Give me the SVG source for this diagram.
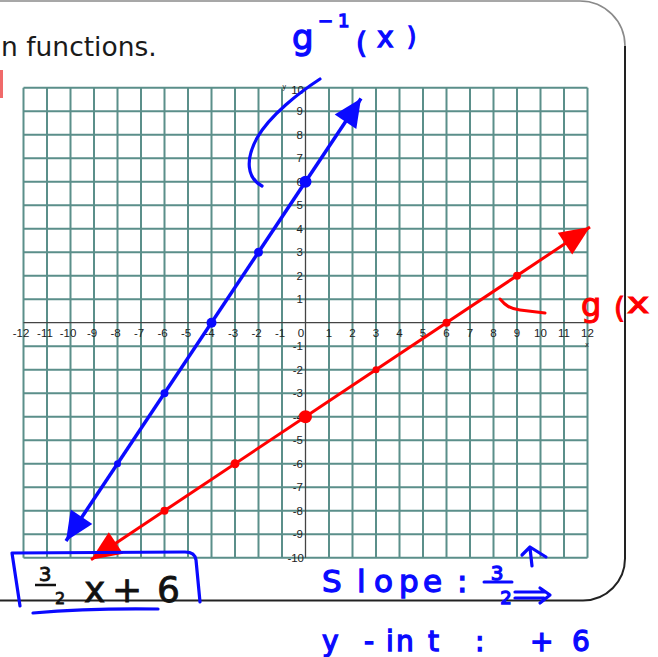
<svg xmlns="http://www.w3.org/2000/svg" width="658" height="657" viewBox="0 0 658 657">
<defs>
<style>
.grid{fill:none;stroke:#5b8f8a;stroke-width:2}
.axis{fill:none;stroke:#444;stroke-width:1.3}
.lbl{font-family:"Liberation Sans",Arial,sans-serif;font-size:11.5px;fill:#222}
.lx{text-anchor:middle}
.ly{text-anchor:end}
.hand{font-family:"DejaVu Sans","Liberation Sans",sans-serif}
.blue{fill:#0a0aff;stroke:#0a0aff;stroke-width:1.3}
.red{fill:#ff0000;stroke:#ff0000;stroke-width:1.1}
.blk{fill:#111;stroke:#111;stroke-width:0.8}
.bstroke{fill:none;stroke:#0a0aff;stroke-width:3.2;stroke-linecap:round;stroke-linejoin:round}
.rstroke{fill:none;stroke:#ff0000;stroke-width:3;stroke-linecap:round;stroke-linejoin:round}
</style>
</defs>
<rect x="0" y="0" width="658" height="657" fill="#ffffff"/>

<g id="page-frame">
<path d="M -5 1 H 580 A 45 45 0 0 1 625 46" fill="none" stroke="#8a8a8a" stroke-width="1.6"/>
<path d="M 625 46 V 558 A 42 42 0 0 1 583 600.5 H -5" fill="none" stroke="#222" stroke-width="2"/>
<rect x="0" y="70" width="3" height="28" fill="#f06a6a"/>
<text x="1" y="56" font-family="DejaVu Sans, Liberation Sans, sans-serif" font-size="26.5" fill="#1a1a1a">n functions.</text>
</g>

<g id="grid">
<path class="grid" d="M23.5 87.7V557.7M47 87.7V557.7M70.5 87.7V557.7M94 87.7V557.7M117.5 87.7V557.7M141 87.7V557.7M164.5 87.7V557.7M188 87.7V557.7M211.5 87.7V557.7M235 87.7V557.7M258.5 87.7V557.7M282 87.7V557.7M329 87.7V557.7M352.5 87.7V557.7M376 87.7V557.7M399.5 87.7V557.7M423 87.7V557.7M446.5 87.7V557.7M470 87.7V557.7M493.5 87.7V557.7M517 87.7V557.7M540.5 87.7V557.7M564 87.7V557.7M587.5 87.7V557.7
M23.5 87.7H587.5M23.5 111.2H587.5M23.5 134.7H587.5M23.5 158.2H587.5M23.5 181.7H587.5M23.5 205.2H587.5M23.5 228.7H587.5M23.5 252.2H587.5M23.5 275.7H587.5M23.5 299.2H587.5M23.5 346.2H587.5M23.5 369.7H587.5M23.5 393.2H587.5M23.5 416.7H587.5M23.5 440.2H587.5M23.5 463.7H587.5M23.5 487.2H587.5M23.5 510.7H587.5M23.5 534.2H587.5M23.5 557.7H587.5"/>
<path class="axis" d="M23.5 322.7H587.5M305.5 87.7V557.7"/>
</g>

<g id="x-labels" class="lbl lx">
<text x="21" y="337">-12</text>
<text x="45" y="337">-11</text>
<text x="68" y="337">-10</text>
<text x="92" y="337">-9</text>
<text x="115.5" y="337">-8</text>
<text x="139" y="337">-7</text>
<text x="162.5" y="337">-6</text>
<text x="186" y="337">-5</text>
<text x="209.5" y="337">-4</text>
<text x="233" y="337">-3</text>
<text x="256.5" y="337">-2</text>
<text x="280" y="337">-1</text>
<text x="301" y="337">0</text>
<text x="329" y="337">1</text>
<text x="352.5" y="337">2</text>
<text x="376" y="337">3</text>
<text x="399.5" y="337">4</text>
<text x="423" y="337">5</text>
<text x="446.5" y="337">6</text>
<text x="470" y="337">7</text>
<text x="493.5" y="337">8</text>
<text x="517" y="337">9</text>
<text x="540.5" y="337">10</text>
<text x="564" y="337">11</text>
<text x="587.5" y="337">12</text>
<text x="587" y="347" font-size="7">x</text>
</g>

<g id="y-labels" class="lbl ly">
<text x="304" y="94">10</text>
<text x="303" y="115">9</text>
<text x="303" y="138.5">8</text>
<text x="303" y="162">7</text>
<text x="303" y="185.5">6</text>
<text x="303" y="209">5</text>
<text x="303" y="232.5">4</text>
<text x="303" y="256">3</text>
<text x="303" y="279.5">2</text>
<text x="303" y="303">1</text>
<text x="303" y="350">-1</text>
<text x="303" y="373.5">-2</text>
<text x="303" y="397">-3</text>
<text x="303" y="420.5">-4</text>
<text x="303" y="444">-5</text>
<text x="303" y="467.5">-6</text>
<text x="303" y="491">-7</text>
<text x="303" y="514.5">-8</text>
<text x="303" y="538">-9</text>
<text x="304" y="561.5">-10</text>
<text x="286" y="89" font-size="7">y</text>
</g>

<g id="connectors">
<g id="line-g-inverse">
<line x1="66" y1="540.95" x2="361" y2="98.45" stroke="#0a0aff" stroke-width="3.5"/>
<polygon points="361,98.4 356.3,128.9 334.7,114.5" fill="#0a0aff"/>
<polygon points="66,541 70.7,509.5 92.3,523.9" fill="#0a0aff"/>
<circle cx="305.5" cy="181.7" r="6" fill="#0a0aff"/>
<circle cx="258.5" cy="252.2" r="4.5" fill="#0a0aff"/>
<circle cx="211.5" cy="322.7" r="5" fill="#0a0aff"/>
<circle cx="164.5" cy="393.2" r="4" fill="#0a0aff"/>
<circle cx="117.5" cy="463.7" r="3.5" fill="#0a0aff"/>
</g>
<g id="line-g">
<line x1="91" y1="559.7" x2="590" y2="227" stroke="#ff0000" stroke-width="3"/>
<polygon points="590,227 572.2,254.4 557.8,232.8" fill="#ff0000"/>
<polygon points="91,559.7 108.8,532.2 123.2,553.8" fill="#ff0000"/>
<circle cx="305.5" cy="416.7" r="6.5" fill="#ff0000"/>
<circle cx="517" cy="275.7" r="4" fill="#ff0000"/>
<circle cx="446.5" cy="322.7" r="4" fill="#ff0000"/>
<circle cx="376" cy="369.7" r="3.5" fill="#ff0000"/>
<circle cx="235" cy="463.7" r="4.5" fill="#ff0000"/>
<circle cx="164.5" cy="510.7" r="4" fill="#ff0000"/>
</g>
</g>

<g id="label-g-inverse">
<text class="hand blue"><tspan x="292" y="49" font-size="34">g</tspan><tspan x="318" y="27" font-size="18" letter-spacing="5">−1</tspan><tspan x="356" y="53" font-size="28">(</tspan><tspan x="377" y="47" font-size="28">x</tspan><tspan x="407" y="45" font-size="24">)</tspan></text>
<path class="bstroke" d="M 320 79 C 300 92, 270 115, 257 138 C 245 160, 247 178, 262 186"/>
</g>

<g id="label-g">
<text class="hand red"><tspan x="581" y="316" font-size="32">g</tspan><tspan x="614" y="318" font-size="28">(</tspan></text>
<text class="hand red" transform="translate(627 313) scale(1.35 1)" x="0" y="0" font-size="28">x</text>
<path class="rstroke" d="M 500 299 C 505 305, 510 309, 520 310 L 545 313"/>
</g>

<g id="equation-box">
<path class="bstroke" d="M 20 606 L 12 553 L 185 552 Q 195 552 196 560 L 200 602"/>
<path class="bstroke" d="M 33 613 Q 90 608 158 609"/>
<text class="hand blk" x="45" y="581" font-size="20" text-anchor="middle">3</text>
<line x1="35" y1="585" x2="56" y2="585" stroke="#111" stroke-width="2.5"/>
<text class="hand blk" x="60" y="604" font-size="16" text-anchor="middle">2</text>
<text class="hand blk" font-size="36"><tspan x="84" y="602">x</tspan><tspan x="112" y="602">+</tspan><tspan x="157" y="602">6</tspan></text>
</g>

<g id="slope-note">
<text class="hand blue" y="592" font-size="31" x="322 357 374 399 423 457">Slope:</text>
<text class="hand blue" x="497" y="580" font-size="20" text-anchor="middle">3</text>
<line x1="484" y1="582" x2="512" y2="582" stroke="#0a0aff" stroke-width="3" stroke-linecap="round"/>
<text class="hand blue" x="506" y="604" font-size="18" text-anchor="middle">2</text>
<path class="bstroke" d="M 515 592 H 544 M 515 598 H 544 M 540 588 L 550 595 L 540 603"/>
<path class="bstroke" d="M 522 555 L 530 547 L 546 557 M 530 548 L 532 566"/>
</g>

<g id="yint-note">
<text class="hand blue" y="651" font-size="28" x="322 364 386 396 428 475">y-int:</text>
<text class="hand blue" y="651" font-size="28" x="530 572">+6</text>
</g>
</svg>
